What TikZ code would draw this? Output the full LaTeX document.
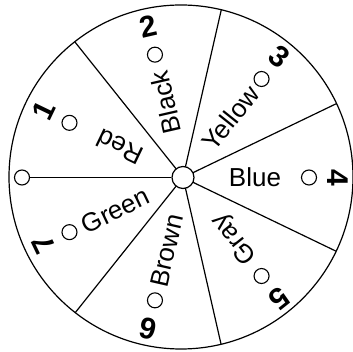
\documentclass[tikz,border=0pt]{standalone}
\usepackage{fontspec}
\setmainfont{Liberation Sans}
\begin{document}
\begin{tikzpicture}[x=1pt,y=1pt,
  rim/.style={line width=1.2pt},
  lab/.style={font=\fontsize{26}{26}\selectfont, inner sep=0pt, text height=18.5pt, text depth=0pt, anchor=center},
  num/.style={font=\fontsize{30}{30}\selectfont\bfseries, inner sep=0pt, text height=21pt, text depth=0pt},
  dot/.style={circle, draw, line width=1.1pt, minimum size=15pt, inner sep=0pt},
  hubc/.style={circle, draw, line width=1.2pt, fill=white, minimum size=22pt, inner sep=0pt}]
\useasboundingbox (0,0) rectangle (352,352);
\coordinate (O) at (181,175);
\coordinate (H) at (183,174.5);
\draw[rim] (O) circle (172);
\begin{scope}
  \clip (O) circle (172);
  \foreach \a in {128.57,77.14,25.71,-25.71,-77.14,-128.57}
    \draw[rim] (H) -- ++(\a:200);
\end{scope}
\node[hubc] (hub) at (H) {};
\begin{scope}[shift={(183,174.5)}]
  \node[dot] (c0) at (180:161) {};
  \draw[rim] (hub) -- (c0);
  \foreach \a/\t/\r/\n/\rt in {154.29/Red/70/1/154.29, 102.86/Black/77/2/102.86, 51.43/Yellow/76/3/51.43, 0/Blue/72/4/0, -51.43/Gray/80/5/128.57, -102.86/Brown/75/6/77.14, -154.29/Green/75/7/25.71}{
    \node[lab, rotate=\rt] (t\n) at (\a:\r) {\t};
    \node[dot] (c\n) at (\a:126) {};
    \node[num, rotate=\a-90] (n\n) at (\a:155) {\n};
  }
\end{scope}
\end{tikzpicture}
\end{document}
